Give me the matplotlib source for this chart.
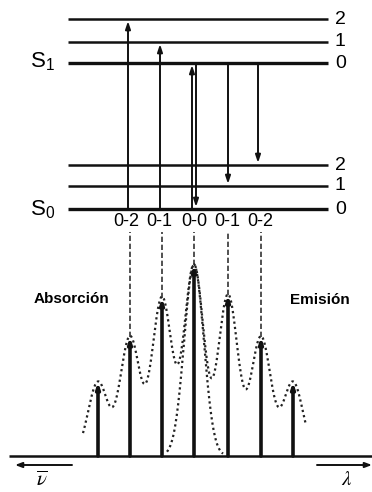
import numpy as np
import matplotlib.pyplot as plt

plt.rcParams['font.family'] = ['Liberation Sans', 'DejaVu Sans']
plt.rcParams['mathtext.fontset'] = 'custom'
plt.rcParams['mathtext.rm'] = 'Liberation Sans'
plt.rcParams['mathtext.it'] = 'Liberation Sans:italic'

# vibrational levels of S0 and S1 (energy, arbitrary units)
s0_levels = [0, 23, 44]
s1_levels = [146, 167, 190]
vib_labels = ["0", "1", "2"]

# absorption: S0 v=0 -> S1 v ; emission: S1 v=0 -> S0 v
abs_x = [128, 160, 192]
abs_to = [2, 1, 0]
emi_x = [196, 228, 258]
emi_to = [0, 1, 2]

trans_labels = ["0-2", "0-1", "0-0", "0-1", "0-2"]
trans_x = [126, 159, 194, 227, 260]

# spectrum sticks (position, intensity)
stick_x = [98, 130, 162, 194, 228, 261, 293]
stick_h = [74, 119, 158, 191, 161, 119, 74]
band_width = 9.8
abs_range = (83, 223)
emi_range = (167, 306)

fig = plt.figure(figsize=(3.72, 4.92), dpi=100)
ax1 = fig.add_axes([0, 262 / 492, 1, 230 / 492])
ax2 = fig.add_axes([0, 0, 1, 262 / 492])
ax1.set_xlim(0, 372)
ax1.set_ylim(-21, 209)
ax2.set_xlim(0, 372)
ax2.set_ylim(-36, 226)
ax1.axis('off')
ax2.axis('off')

# energy levels
widths = [2.4, 1.8, 1.8]
for levels in (s0_levels, s1_levels):
    for E, lw, lab in zip(levels, widths, vib_labels):
        ax1.hlines(E, 68, 328, color='#111111', lw=lw)
        ax1.text(335, E, lab, ha='left', va='center', fontsize=14)
ax1.text(55, s1_levels[0] - 4, r"S$_{\mathrm{1}}$", ha='right', va='baseline', fontsize=16)
ax1.text(55, s0_levels[0] - 6, r"S$_{\mathrm{0}}$", ha='right', va='baseline', fontsize=16)

arrow = dict(arrowstyle='-|>,head_length=0.45,head_width=0.15', lw=1.4,
             color='#111111', shrinkA=0, shrinkB=1.5, mutation_scale=10)
for x, v in zip(abs_x, abs_to):
    ax1.annotate('', xy=(x, s1_levels[v]), xytext=(x, s0_levels[0]), arrowprops=arrow)
for x, v in zip(emi_x, emi_to):
    ax1.annotate('', xy=(x, s0_levels[v]), xytext=(x, s1_levels[0]), arrowprops=arrow)

for x, lab in zip(trans_x, trans_labels):
    ax1.text(x, -12, lab, ha='center', va='center', fontsize=13)

# spectrum
ax2.hlines(0, 9, 372, color='#111111', lw=1.8)
stick = dict(arrowstyle='-|>,head_length=0.3,head_width=0.1', lw=2.6,
             color='#111111', shrinkA=0, shrinkB=0, mutation_scale=10)
for x, h in zip(stick_x, stick_h):
    ax2.annotate('', xy=(x, h), xytext=(x, 0), arrowprops=stick)

ax2.vlines(stick_x[1:6], stick_h[1:6], 224, color='#333333', lw=1.2,
           linestyles=[(0, (3.2, 1.6))])

xa = np.linspace(abs_range[0], abs_range[1], 400)
ya = sum(h * np.exp(-(xa - x0) ** 2 / (2 * band_width ** 2))
         for x0, h in zip(stick_x[:4], stick_h[:4]))
xe = np.linspace(emi_range[0], emi_range[1], 400)
ye = sum(h * np.exp(-(xe - x0) ** 2 / (2 * band_width ** 2))
         for x0, h in zip(stick_x[3:], stick_h[3:]))
ax2.plot(xa, ya, color='#222222', lw=1.6, ls=(0, (1, 1.4)))
ax2.plot(xe, ye, color='#222222', lw=1.6, ls=(0, (1, 1.4)))

ax2.text(72, 157, "Absorción", ha='center', va='center', fontsize=11, fontweight='bold')
ax2.text(320, 156, "Emisión", ha='center', va='center', fontsize=11, fontweight='bold')

# axis direction arrows
small = dict(arrowstyle='-|>,head_length=0.4,head_width=0.15', lw=1.4,
             color='#111111', shrinkA=0, shrinkB=0, mutation_scale=10)
ax2.annotate('', xy=(15, -9), xytext=(72, -9), arrowprops=small)
ax2.annotate('', xy=(372, -9), xytext=(317, -9), arrowprops=small)
ax2.text(42, -14, r'$\overline{\nu}$', ha='center', va='top', fontsize=15, math_fontfamily='stix')
ax2.text(347, -14, r'$\lambda$', ha='center', va='top', fontsize=15, math_fontfamily='stix')

fig.savefig('out.png', dpi=100, facecolor='white')
